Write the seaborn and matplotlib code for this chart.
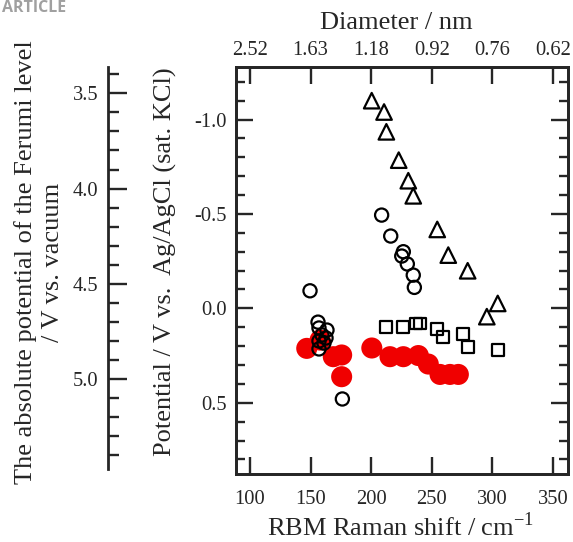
import matplotlib
matplotlib.use("Agg")
import matplotlib.pyplot as plt
import seaborn as sns
import numpy as np
from matplotlib.ticker import MultipleLocator, FixedLocator

# ---------------- data ----------------
tri_x = [200.4, 210.6, 212.5, 222.7, 230.6, 234.7, 254.5, 263.6, 279.6, 304.4, 295.4]
tri_y = [-1.10, -1.04, -0.935, -0.785, -0.676, -0.596, -0.418, -0.282, -0.199, -0.026, 0.044]

circ_x = [208.6, 216.1, 226.5, 225.2, 229.8, 234.7, 235.6, 149.5,
          156.1, 163.5, 156.9, 159.4, 156.9, 161.0, 156.9, 162.7, 176.2]
circ_y = [-0.494, -0.383, -0.300, -0.277, -0.235, -0.176, -0.111, -0.093,
          0.073, 0.115, 0.104, 0.141, 0.173, 0.184, 0.215, 0.157, 0.480]

sq_x = [212.2, 226.5, 237.2, 240.3, 254.6, 259.5, 276.0, 280.1, 304.8]
sq_y = [0.097, 0.097, 0.080, 0.080, 0.110, 0.150, 0.136, 0.203, 0.221]

red_x = [146.8, 157.8, 168.7, 175.6, 175.6, 200.5, 215.5, 226.5, 238.9, 247.1, 256.8, 265.0, 271.9]
red_y = [0.212, 0.168, 0.256, 0.247, 0.362, 0.210, 0.256, 0.256, 0.250, 0.295, 0.350, 0.350, 0.350]

raman_ticks = [100, 150, 200, 250, 300, 350]
diam_labels = ["2.52", "1.63", "1.18", "0.92", "0.76", "0.62"]
pot_ticks = [-1.0, -0.5, 0.0, 0.5]
abs_ticks = [3.5, 4.0, 4.5, 5.0]

# ---------------- style ----------------
sns.set_style("ticks")
plt.rcParams['font.family'] = ['Liberation Serif', 'DejaVu Serif']
plt.rcParams['mathtext.fontset'] = 'custom'
plt.rcParams['mathtext.rm'] = 'Liberation Serif'
plt.rcParams['axes.unicode_minus'] = False

W, H = 573, 542
fig = plt.figure(figsize=(W / 100, H / 100), dpi=100)

def px_rect(l, t, r, b):
    return [l / W, 1 - b / H, (r - l) / W, (b - t) / H]

ax = fig.add_axes(px_rect(235.5, 66.7, 568, 474.3))

sns.scatterplot(x=red_x, y=red_y, ax=ax, marker='o', s=230, color='#f00000',
                edgecolor='none', linewidth=0, zorder=2, legend=False)
sns.scatterplot(x=circ_x, y=circ_y, ax=ax, marker='o', s=90, facecolor='none',
                edgecolor='black', linewidth=1.6, zorder=3, legend=False)
sns.scatterplot(x=sq_x, y=sq_y, ax=ax, marker='s', s=72, facecolor='none',
                edgecolor='black', linewidth=1.6, zorder=3, legend=False)
sns.scatterplot(x=tri_x, y=tri_y, ax=ax, marker='^', s=125, facecolor='none',
                edgecolor='black', linewidth=1.6, zorder=3, legend=False)

ax.set_xlim(88.0, 362.4)
ax.set_ylim(0.879, -1.280)

lw_sp = 2.0
for sp in ax.spines.values():
    sp.set_linewidth(lw_sp)
    sp.set_visible(True)

ax.xaxis.set_major_locator(FixedLocator(raman_ticks))
ax.yaxis.set_major_locator(FixedLocator(pot_ticks))
ax.yaxis.set_minor_locator(MultipleLocator(0.1))
ax.set_yticklabels([f"{v:.1f}" for v in pot_ticks])
ax.set_xticklabels([str(v) for v in raman_ticks])
ax.tick_params(axis='x', which='major', direction='in', length=12.5, width=1.7,
               bottom=True, top=False, labelsize=14.8, pad=11)
ax.tick_params(axis='y', which='major', direction='in', length=12.5, width=1.7,
               left=True, right=True, labelsize=14.8, pad=6)
ax.tick_params(axis='y', which='minor', direction='in', length=6.5, width=1.7,
               left=True, right=True)
ax.set_xlabel("")
ax.set_ylabel("")

# top diameter axis
ax2 = ax.twiny()
ax2.set_xlim(ax.get_xlim())
ax2.xaxis.set_major_locator(FixedLocator(raman_ticks))
ax2.set_xticklabels(diam_labels)
ax2.tick_params(axis='x', which='major', direction='in', length=12.5, width=1.7,
                top=True, labelsize=14.8, pad=5)
for sp in ax2.spines.values():
    sp.set_linewidth(lw_sp)

# absolute potential axis at left
ax3 = fig.add_axes(px_rect(108, 66.7, 110, 469.3))
ax3.set_facecolor('none')
for k in ['top', 'right', 'bottom']:
    ax3.spines[k].set_visible(False)
ax3.spines['left'].set_linewidth(lw_sp)
ax3.set_ylim(5.474, 3.36)
ax3.set_xticks([])
ax3.yaxis.set_major_locator(FixedLocator(abs_ticks))
ax3.set_yticklabels([f"{v:.1f}" for v in abs_ticks])
ax3.yaxis.set_minor_locator(MultipleLocator(0.1))
ax3.tick_params(axis='y', which='major', direction='in', length=13.5, width=1.7,
                labelsize=14.8, pad=7)
ax3.tick_params(axis='y', which='minor', direction='in', length=8, width=1.7)

# labels
fig.text(401 / W, 1 - 536 / H, "RBM Raman shift / cm$^{-1}$", ha='center', va='baseline',
         fontsize=19)
fig.text(396 / W, 1 - 29 / H, "Diameter / nm", ha='center', va='baseline', fontsize=19)
fig.text(165 / W, 1 - 262 / H, "Potential / V vs.  Ag/AgCl (sat. KCl)", rotation=90,
         ha='center', va='center', fontsize=19)
fig.text(39 / W, 1 - 262 / H, "The absolute potential of the Ferumi level\n/ V vs. vacuum",
         rotation=90, ha='center', va='center', fontsize=19, multialignment='center',
         linespacing=1.35)
fig.text(2 / W, 1 - 12 / H, "ARTICLE", ha='left', va='baseline', fontsize=11.5,
         color='#a0a0a0', fontweight='bold', family=['Open Sans', 'DejaVu Sans'])

fig.savefig("out.png", dpi=100)
